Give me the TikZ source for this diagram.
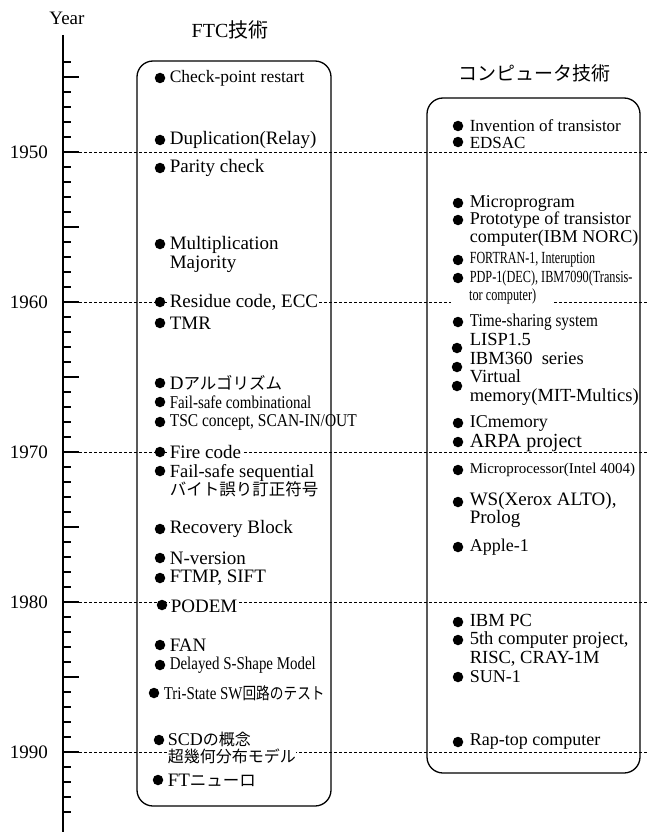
\documentclass[tikz,border=0pt]{standalone}
\usepackage{fontspec}
\usepackage{graphicx}
\setmainfont{Liberation Serif}
\newfontfamily\jp{Noto Sans CJK JP}
\newcommand\sqz[2]{\scalebox{#1}[1]{#2}}
\newcommand\jt[1]{{\jp\fontsize{16.5}{19}\selectfont #1}}
\begin{document}
\begin{tikzpicture}[x=1pt,y=-1pt,
 tx/.style={anchor=west, inner sep=0.6pt, align=left, font=\fontsize{19}{19}\selectfont},
 rx/.style={tx, font=\fontsize{18}{18}\selectfont},
 bul/.style={circle, fill=black, draw=none, inner sep=0pt, minimum size=10.5pt},
 wb/.style={fill=white},
 box/.style={draw, line width=1.3pt, rounded corners=16pt},
 dl/.style={dash pattern=on 3pt off 2pt, line width=0.9pt},
 ax/.style={line width=1.4pt},
 tk/.style={line width=1.3pt},
 yl/.style={anchor=east, inner sep=0pt, font=\fontsize{19}{20}\selectfont},
 ttl/.style={inner sep=0pt, font=\fontsize{20}{22}\selectfont}]
\path[use as bounding box] (0,0) rectangle (648,832);

% axis
\coordinate (axtop) at (63,35);
\coordinate (axbot) at (63,832);
\draw[ax] (axtop) -- (axbot);
\node[ttl, font=\fontsize{19}{20}\selectfont] (year) at (67,18) {Year};
\foreach \yr in {1944,...,1994}{
  \pgfmathsetmacro\yy{152+(\yr-1950)*15}
  \pgfmathsetmacro\tl{mod(\yr,5)==0 ? 16 : 8}
  \draw[tk] (63,\yy) -- ++(\tl,0);
}
\foreach \yr in {1950,1960,1970,1980,1990}{
  \pgfmathsetmacro\yy{152+(\yr-1950)*15}
  \node[yl] (y\yr) at (48,\yy) {\yr};
  \draw[dl] (79,\yy) -- (648,\yy);
}

% titles
\node[ttl] (tftc) at (230,30) {FTC{\jp 技術}};
\node[ttl] (tcomp) at (534,73) {\jp\fontsize{19}{20}\selectfont コンピュータ技術};

% boxes
\draw[box] (137,61) rectangle (331,806);
\draw[box] (427,98) rectangle (640,773);

% left column
\node[bul] (bL1) at (160,78) {};   \node[tx, font=\fontsize{17.5}{19}\selectfont] (tL1) at (169,78) {Check-point restart};
\node[bul] (bL2) at (160,140) {};  \node[tx] (tL2) at (169,140) {Duplication(Relay)};
\node[bul] (bL3) at (160,168) {};  \node[tx] (tL3) at (169,168) {Parity check};
\node[bul] (bL4) at (160,244) {};  \node[tx] (tL4) at (169,254.5) {Multiplication\\Majority};
\node[tx, wb] (tL5) at (169,302) {Residue code, ECC}; \node[bul] (bL5) at (160,302) {};
\node[bul] (bL6) at (160,323) {};  \node[tx] (tL6) at (169,323) {TMR};
\node[bul] (bL7) at (160,383) {};  \node[tx] (tL7) at (169,383) {D\jt{アルゴリズム}};
\node[bul] (bL8) at (160,402) {};  \node[tx, font=\fontsize{18}{19}\selectfont] (tL8) at (169,402) {\sqz{0.83}{Fail-safe combinational}};
\node[bul] (bL9) at (160,422) {};  \node[tx, font=\fontsize{18}{19}\selectfont] (tL9) at (169,422) {\sqz{0.86}{TSC concept, SCAN-IN/OUT}};
\node[tx, wb] (tL10) at (169,452) {Fire code}; \node[bul] (bL10) at (160,452) {};
\node[bul] (bL11) at (160,471) {}; \node[tx, font=\fontsize{18.5}{18}\selectfont] (tL11) at (169,480.5) {Fail-safe sequential\\\jt{バイト誤り訂正符号}};
\node[bul] (bL12) at (160,529) {}; \node[tx] (tL12) at (169,529) {Recovery Block};
\node[bul] (bL13) at (160,558) {}; \node[tx] (tL13) at (169,558) {N-version};
\node[bul] (bL14) at (160,578) {}; \node[tx] (tL14) at (169,578) {FTMP, SIFT};
\node[tx, wb] (tL15) at (170,606) {PODEM}; \node[bul] (bL15) at (162,605) {};
\node[bul] (bL16) at (160,645) {}; \node[tx] (tL16) at (169,645) {FAN};
\node[bul] (bL17) at (160,665) {}; \node[tx, font=\fontsize{18}{19}\selectfont] (tL17) at (169,665) {\sqz{0.83}{Delayed S-Shape Model}};
\node[bul] (bL18) at (154,693) {}; \node[tx, font=\fontsize{18}{19}\selectfont] (tL18) at (163,693) {\sqz{0.83}{Tri-State SW\jt{回路のテスト}}};
\node[tx, wb, font=\fontsize{18}{17}\selectfont] (tL19) at (167,748) {SCD{\jp\fontsize{16}{17}\selectfont の概念}\\{\jp\fontsize{16}{17}\selectfont 超幾何分布モデル}}; \node[bul] (bL19) at (159,740) {};
\node[bul] (bL20) at (158,780) {}; \node[tx] (tL20) at (167,780) {FT\jt{ニューロ}};

% right column
\node[bul] (bR1) at (458,126) {};  \node[bul] (bR2) at (458,142) {};
\node[rx, font=\fontsize{17}{17}\selectfont] (tR1) at (469,134) {Invention of transistor\\EDSAC};
\node[bul] (bR3) at (458,203) {};  \node[rx] (tR3) at (469,203) {Microprogram};
\node[bul] (bR4) at (458,220) {};  \node[rx] (tR4) at (469,229) {Prototype of transistor\\computer(IBM NORC)};
\node[bul] (bR5) at (458,260) {};  \node[rx, font=\fontsize{17}{18}\selectfont] (tR5) at (469,260) {\sqz{0.71}{FORTRAN-1, Interuption}};
\node[bul] (bR6) at (458,278) {};  \node[rx, font=\fontsize{17}{18}\selectfont] (tR6) at (469,278) {\sqz{0.72}{PDP-1(DEC), IBM7090(Transis-}};
\node[rx, wb, inner xsep=18pt, font=\fontsize{17}{18}\selectfont] (tR6b) at (451,296) {\sqz{0.72}{tor computer)}};
\node[bul] (bR7) at (458,322) {};  \node[rx] (tR7) at (469,322) {\sqz{0.85}{Time-sharing system}};
\node[bul] (bR8) at (457,348) {};  \node[bul] (bR9) at (457,367) {};  \node[bul] (bR10) at (457,386) {};
\node[rx, font=\fontsize{18.5}{18.5}\selectfont] (tR8) at (469,369.5) {LISP1.5\\IBM360\ \ series\\Virtual\\memory(MIT-Multics)};
\node[bul] (bR11) at (458,423) {}; \node[rx] (tR11) at (469,423) {ICmemory};
\node[bul] (bR12) at (458,442) {}; \node[rx, font=\fontsize{20}{20}\selectfont] (tR12) at (469,443) {ARPA project};
\node[bul] (bR13) at (458,470) {}; \node[rx, font=\fontsize{15}{17}\selectfont] (tR13) at (469,470) {Microprocessor(Intel 4004)};
\node[bul] (bR14) at (458,502) {}; \node[rx, font=\fontsize{19}{18}\selectfont] (tR14) at (469,510) {WS(Xerox ALTO),\\Prolog};
\node[bul] (bR15) at (458,547) {}; \node[rx] (tR15) at (469,547) {Apple-1};
\node[bul] (bR16) at (458,622) {}; \node[bul] (bR17) at (458,640) {};
\node[rx, font=\fontsize{18.5}{18.5}\selectfont] (tR16) at (469,640) {IBM PC\\5th computer project,\\RISC, CRAY-1M};
\node[bul] (bR18) at (458,677) {}; \node[rx] (tR18) at (469,677) {SUN-1};
\node[bul] (bR19) at (458,742) {}; \node[rx] (tR19) at (469,742) {Rap-top computer};
\end{tikzpicture}
\end{document}
